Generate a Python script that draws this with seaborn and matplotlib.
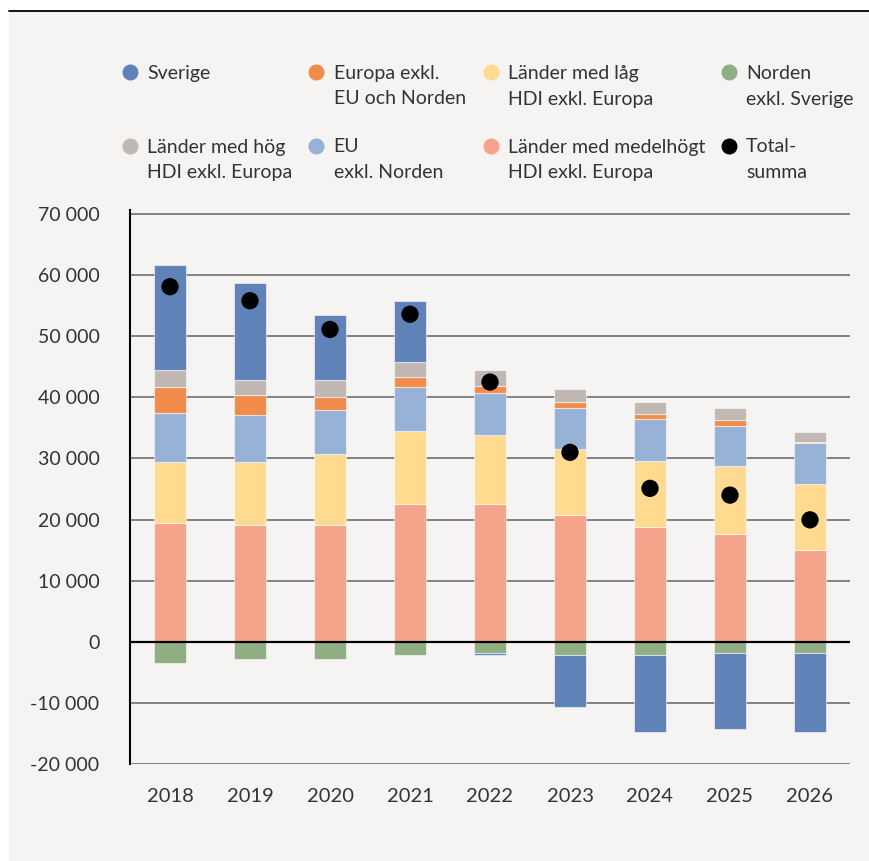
import numpy as np
import seaborn as sns
import matplotlib.pyplot as plt
from matplotlib.patches import Rectangle
from matplotlib.lines import Line2D

# värden
years = ["2018", "2019", "2020", "2021", "2022", "2023", "2024", "2025", "2026"]
medelhogt = [19400, 19100, 19100, 22600, 22600, 20700, 18800, 17700, 15050]
lag = [10000, 10300, 11600, 11900, 11300, 10800, 10800, 11100, 10750]
eu = [8000, 7700, 7200, 7200, 6800, 6700, 6800, 6500, 6750]
europa = [4300, 3200, 2200, 1600, 1200, 1050, 950, 1000, 150]
hog = [2800, 2550, 2750, 2500, 2500, 2150, 1900, 1900, 1700]
norden = [-3500, -2900, -2900, -2100, -1850, -2100, -2100, -1850, -1850]
sverige = [17100, 15850, 10650, 10000, -250, -8600, -12600, -12350, -12850]
totalsumma = [58100, 55800, 51100, 53600, 42500, 31000, 25100, 24000, 19950]

c_sverige = "#5F83B9"
c_europa = "#F28C4A"
c_lag = "#FFDA8F"
c_norden = "#8FAE82"
c_hog = "#C1B8B4"
c_eu = "#98B1D7"
c_medel = "#F5A48B"
bg = "#F5F4F2"
txt = "#333333"

sns.set_style("white")
plt.rcParams["font.family"] = ["Lato", "DejaVu Sans"]

fig = plt.figure(figsize=(8.7, 8.61), dpi=100, facecolor="white")
W, H = 870, 861
fig.add_artist(Rectangle((9 / W, 0), 1 - 9 / W, 1 - 11 / H, transform=fig.transFigure,
                         facecolor=bg, edgecolor="none", zorder=0))
fig.add_artist(Line2D([9 / W, 1], [1 - 11 / H, 1 - 11 / H], transform=fig.transFigure,
                      color="black", lw=1.3))

ax = fig.add_axes([130 / W, 1 - 764 / H, 720 / W, (764 - 210) / H])
ax.set_facecolor("none")

# staplar, positiva och negativa staplas var för sig
x = np.arange(len(years))
series = [(medelhogt, c_medel), (lag, c_lag), (eu, c_eu), (europa, c_europa),
          (hog, c_hog), (norden, c_norden), (sverige, c_sverige)]
pos = np.zeros(len(years))
neg = np.zeros(len(years))
for vals, col in series:
    v = np.array(vals, dtype=float)
    bottom = np.where(v >= 0, pos, neg)
    ax.bar(x, v, bottom=bottom, width=0.41, color=col,
           edgecolor=(1, 1, 1, 0.55), linewidth=0.8, zorder=3)
    pos = pos + np.where(v >= 0, v, 0)
    neg = neg + np.where(v < 0, v, 0)

sns.scatterplot(x=x, y=totalsumma, color="black", s=155, edgecolor="none",
                ax=ax, zorder=5, legend=False)

ax.set_xlim(-0.5, len(years) - 0.5)
ax.set_ylim(-20000, 70650)
yt = list(range(-20000, 70001, 10000))
ax.set_yticks(yt)
ax.set_yticklabels([f"{v:,}".replace(",", " ") for v in yt])
ax.set_xticks(x)
ax.set_xticklabels(years)
ax.tick_params(axis="both", length=0, labelcolor=txt)
ax.tick_params(axis="y", pad=22, labelsize=14)
ax.tick_params(axis="x", pad=17, labelsize=14.5)
for v in yt:
    if v == 0:
        ax.axhline(v, color="black", lw=1.6, zorder=4)
    else:
        ax.axhline(v, color="#7a7a7a", lw=1.3, zorder=1)
for s in ["top", "right", "bottom"]:
    ax.spines[s].set_visible(False)
ax.spines["left"].set_color("black")
ax.spines["left"].set_linewidth(1.5)
ax.set_xlabel("")
ax.set_ylabel("")

# förklaring
labels = ["Sverige", "Europa exkl.\nEU och Norden", "Länder med låg\nHDI exkl. Europa",
          "Norden\nexkl. Sverige", "Länder med hög\nHDI exkl. Europa", "EU\nexkl. Norden",
          "Länder med medelhögt\nHDI exkl. Europa", "Total-\nsumma"]
colors = [c_sverige, c_europa, c_lag, c_norden, c_hog, c_eu, c_medel, "black"]
col_x = [130.5, 316.5, 491.5, 729]
row_y = [79, 152.5]
for i, (lab, col) in enumerate(zip(labels, colors)):
    cx = col_x[i % 4]
    ry = row_y[i // 4]
    fig.add_artist(Line2D([cx / W], [1 - (ry - 7) / H], transform=fig.transFigure,
                          marker="o", ms=10.5, color=col, lw=0))
    for k, line in enumerate(lab.split("\n")):
        fig.text((cx + 17) / W, 1 - (ry + k * 25.5) / H, line, fontsize=14,
                 color=txt, va="baseline", ha="left")

plt.savefig("out.png", dpi=100, facecolor="white")
